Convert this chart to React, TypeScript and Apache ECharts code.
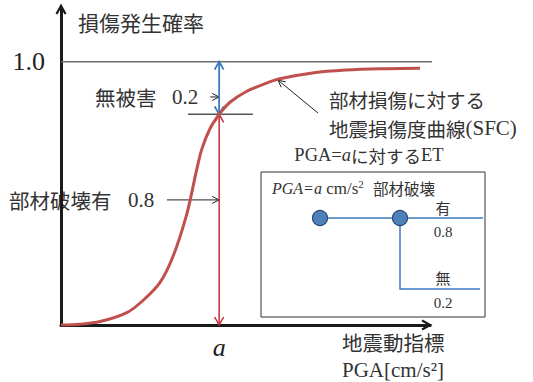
import { useEffect, useRef } from 'react';
import * as echarts from 'echarts';

// Horizontal axis: ground-motion index PGA (arbitrary units); PGA_A is the level "a"
const X_MAX = 7;
const Y_MAX = 1.2;
const PGA_A = 3;
const P_DAMAGE = 0.8; // 部材破壊 有
const P_NO_DAMAGE = 0.2; // 無被害
const P_FULL = 1.0;

// Seismic fragility curve (SFC) of the member
const sfcPGA = [0, 0.36, 0.74, 1.25, 1.56, 1.88, 2.13, 2.39, 2.57, 2.67, 2.83, 3.0, 3.2, 3.5, 3.85, 4.15, 4.8, 5.4, 6.05, 6.81];
const sfcProb = [0, 0.003, 0.013, 0.047, 0.094, 0.162, 0.263, 0.424, 0.586, 0.667, 0.747, 0.8, 0.845, 0.885, 0.915, 0.935, 0.958, 0.968, 0.973, 0.975];

// Reference lines: probability 1.0 and a short tick at the level
const fullLine = [[0, P_FULL], [7.13, P_FULL]];
const damageTick = [[2.41, P_DAMAGE], [3.64, P_DAMAGE]];

// Arrows: [x1, y1, x2, y2, headAtStart]
const noDamageArrow = [[PGA_A, P_DAMAGE, PGA_A, P_FULL, 1]];
const damageArrow = [[PGA_A, P_DAMAGE, PGA_A, 0, 1]];
const pointerArrows = [
  [2.83, 0.866, PGA_A, 0.866, 0],
  [2.01, 0.475, PGA_A, 0.475, 0],
  [4.875, 0.805, 4.117, 0.93, 0],
];

const CJK = '"Noto Sans CJK JP", sans-serif';
const SERIF = '"Liberation Serif", "Times New Roman", serif';
const INK = '#333333';
const BLUE = '#3b78c3';
const RED = '#c42b3c';
const CURVE = '#c0504d';

const arrowSeries = (segs: number[][], color: string, width: number, len: number, half: number, z: number) => ({
  type: 'custom',
  coordinateSystem: 'cartesian2d',
  silent: true,
  z,
  data: segs,
  encode: { x: [0, 2], y: [1, 3] },
  renderItem: (_params: any, api: any) => {
    const a = api.coord([api.value(0), api.value(1)]);
    const b = api.coord([api.value(2), api.value(3)]);
    const head = (tip: number[], from: number[]) => {
      const dx = tip[0] - from[0];
      const dy = tip[1] - from[1];
      const l = Math.hypot(dx, dy) || 1;
      const ux = dx / l;
      const uy = dy / l;
      return {
        type: 'polyline',
        shape: {
          points: [
            [tip[0] - ux * len - uy * half, tip[1] - uy * len + ux * half],
            [tip[0], tip[1]],
            [tip[0] - ux * len + uy * half, tip[1] - uy * len - ux * half],
          ],
        },
        style: { stroke: color, lineWidth: width, fill: 'none' },
      };
    };
    const children: any[] = [
      { type: 'line', shape: { x1: a[0], y1: a[1], x2: b[0], y2: b[1] }, style: { stroke: color, lineWidth: width } },
      head(b, a),
    ];
    if (api.value(4) === 1) children.push(head(a, b));
    return { type: 'group', children };
  },
});

const txt = (x: number, y: number, text: string, font: string, size: number, extra: any = {}) => ({
  type: 'text',
  x,
  y,
  silent: true,
  style: { text, fontFamily: font, fontSize: size, fill: INK, align: 'left', verticalAlign: 'middle', ...extra },
});

export default function App() {
  const ref = useRef<HTMLDivElement>(null);

  useEffect(() => {
    document.body.style.margin = '0';
    const chart = echarts.init(ref.current!, undefined, { renderer: 'svg' });
    const chevron = 'path://M0,9 L5,0 L10,9 L8.2,10 L5,4.2 L1.8,10 Z';

    chart.setOption({
      animation: false,
      backgroundColor: '#ffffff',
      grid: { left: 61, top: 9, width: 369, height: 316 },
      xAxis: {
        type: 'value',
        min: 0,
        max: X_MAX,
        interval: 1,
        splitLine: { show: false },
        axisTick: { show: false },
        axisLine: {
          show: true,
          symbol: ['none', chevron],
          symbolSize: [11, 11],
          symbolOffset: [0, -3],
          lineStyle: { color: '#1a1a1a', width: 3 },
        },
        axisLabel: {
          formatter: (v: number) => (Math.abs(v - PGA_A) < 1e-9 ? 'a' : ''),
          fontFamily: SERIF,
          fontStyle: 'italic',
          fontSize: 26,
          color: '#222',
          margin: 9,
          showMinLabel: true,
          showMaxLabel: true,
        },
      },
      yAxis: {
        type: 'value',
        min: 0,
        max: Y_MAX,
        interval: 0.2,
        splitLine: { show: false },
        axisTick: { show: false },
        axisLine: {
          show: true,
          symbol: ['none', chevron],
          symbolSize: [11, 11],
          symbolOffset: [0, 0],
          lineStyle: { color: '#1a1a1a', width: 3 },
        },
        axisLabel: {
          formatter: (v: number) => (Math.abs(v - P_FULL) < 1e-9 ? '1.0' : ''),
          fontFamily: SERIF,
          fontSize: 26,
          color: '#222',
          margin: 16,
        },
      },
      series: [
        {
          type: 'line',
          data: fullLine,
          clip: false,
          symbol: 'none',
          silent: true,
          z: 1,
          lineStyle: { color: '#6e6e6e', width: 1.5 },
        },
        {
          type: 'line',
          data: damageTick,
          symbol: 'none',
          silent: true,
          z: 1,
          lineStyle: { color: '#555555', width: 1.5 },
        },
        arrowSeries(pointerArrows, '#222222', 1, 7, 3.5, 2),
        arrowSeries(damageArrow, RED, 1.5, 8, 4.5, 3),
        arrowSeries(noDamageArrow, BLUE, 1.8, 8, 4.5, 4),
        {
          type: 'line',
          data: sfcPGA.map((x, i) => [x, sfcProb[i]]),
          smooth: 0.3,
          symbol: 'none',
          silent: true,
          z: 5,
          lineStyle: { color: CURVE, width: 3 },
        },
      ],
      graphic: [
        txt(78, 22, '損傷発生確率', CJK, 21),
        txt(95, 97, '無被害', CJK, 20.5),
        txt(172, 97, P_NO_DAMAGE.toFixed(1), SERIF, 21),
        txt(9, 200, '部材破壊有', CJK, 20.5),
        txt(128, 200, P_DAMAGE.toFixed(1), SERIF, 21),
        txt(329, 113.75, '{j|部材損傷に対する}\n{j|地震損傷度曲線}{s|(SFC)}', CJK, 19.5, {
          rich: {
            j: { fontFamily: CJK, fontSize: 19.5, fill: INK, lineHeight: 28.5 },
            s: { fontFamily: SERIF, fontSize: 21, fill: INK, lineHeight: 28.5 },
          },
        }),
        txt(369, 155, '{s|PGA=}{i|a}{j|に対する}{s|ET}', SERIF, 18.5, {
          align: 'center',
          rich: {
            s: { fontFamily: SERIF, fontSize: 18.5, fill: INK },
            i: { fontFamily: SERIF, fontSize: 18.5, fontStyle: 'italic', fill: INK },
            j: { fontFamily: CJK, fontSize: 17.5, fill: INK },
          },
        }),
        // Event tree for PGA = a
        {
          type: 'rect',
          silent: true,
          shape: { x: 261, y: 172, width: 224, height: 145 },
          style: { fill: 'none', stroke: '#333333', lineWidth: 1 },
        },
        txt(272, 188, '{i|PGA=a}{n| cm/s}{sup|2}', SERIF, 16.5, {
          rich: {
            i: { fontFamily: SERIF, fontSize: 16, fontStyle: 'italic', fill: INK, lineHeight: 19 },
            n: { fontFamily: SERIF, fontSize: 17, fill: INK, lineHeight: 19 },
            sup: { fontFamily: SERIF, fontSize: 11, fill: INK, verticalAlign: 'top' },
          },
        }),
        txt(373, 188, '部材破壊', CJK, 15.5),
        {
          type: 'polyline',
          silent: true,
          shape: { points: [[320, 218], [483, 218]] },
          style: { stroke: BLUE, lineWidth: 1.5, fill: 'none' },
        },
        {
          type: 'polyline',
          silent: true,
          shape: { points: [[400, 218], [400, 289], [480, 289]] },
          style: { stroke: BLUE, lineWidth: 1.5, fill: 'none' },
        },
        {
          type: 'circle',
          silent: true,
          shape: { cx: 320, cy: 218, r: 7.5 },
          style: { fill: '#4f81bd', stroke: '#2c4a74', lineWidth: 1.2 },
        },
        {
          type: 'circle',
          silent: true,
          shape: { cx: 400, cy: 218, r: 7.5 },
          style: { fill: '#4f81bd', stroke: '#2c4a74', lineWidth: 1.2 },
        },
        txt(443, 207, '有', CJK, 15, { align: 'center' }),
        txt(443, 232, P_DAMAGE.toFixed(1), SERIF, 15, { align: 'center' }),
        txt(443, 277, '無', CJK, 15, { align: 'center' }),
        txt(443, 303, P_NO_DAMAGE.toFixed(1), SERIF, 15, { align: 'center' }),
        // Horizontal axis title
        txt(342, 342, '地震動指標', CJK, 20.5),
        txt(342, 370, 'PGA[cm/s²]', SERIF, 21),
      ],
    });

    return () => chart.dispose();
  }, []);

  return <div ref={ref} style={{ width: 533, height: 382 }} />;
}
